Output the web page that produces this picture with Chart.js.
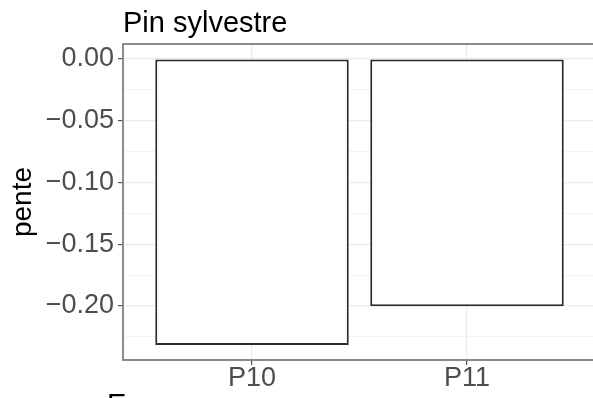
<!DOCTYPE html>
<html>
<head>
<meta charset="utf-8">
<script src="https://cdn.jsdelivr.net/npm/chart.js@4"></script>
<style>
  html, body { margin: 0; padding: 0; background: #fff; }
  #wrap { width: 593px; height: 398px; overflow: hidden; }
</style>
</head>
<body>
<div id="wrap"><canvas id="pente" width="600" height="398"></canvas></div>
<script>
  // data
  const categories = ["P10", "P11"];
  const pente = [-0.2316, -0.2001];
  const yTicks = [0, -0.05, -0.1, -0.15, -0.2];
  const plotTitle = "Pin sylvestre";
  const yTitle = "pente";
  const xTitle = "Essence";

  const FONT = "'Liberation Sans', Arial, sans-serif";
  const isMajor = (v) => yTicks.some((t) => Math.abs(t - v) < 1e-6);
  const fmt = (v) => (Math.abs(v) < 1e-9 ? "0.00" : v.toFixed(2).replace("-", "\u2212"));

  // panel border + titles, drawn like ggplot does
  const deco = {
    id: "deco",
    afterDatasetsDraw(chart) {
      const { ctx, chartArea: a } = chart;
      ctx.save();
      ctx.strokeStyle = "#7f7f7f";
      ctx.lineWidth = 1.8;
      ctx.strokeRect(a.left, a.top, a.right - a.left, a.bottom - a.top);
      ctx.restore();
    },
    afterDraw(chart) {
      const { ctx, chartArea: a } = chart;
      ctx.save();
      ctx.fillStyle = "#000";
      ctx.textBaseline = "alphabetic";
      ctx.font = "29px " + FONT;
      ctx.fillText(plotTitle, a.left, 32);
      ctx.fillText(xTitle, 107, 414);
      ctx.restore();
    },
  };

  window.addEventListener("load", () => {
    const ctx = document.getElementById("pente");

    new Chart(ctx, {
      type: "bar",
      data: {
        datasets: [
          {
            data: categories.map((c, i) => ({ x: i + 1, y: pente[i] })),
            backgroundColor: "#ffffff",
            borderColor: "#2b2b2b",
            borderWidth: 2,
            borderSkipped: false,
            barPercentage: 0.9,
            categoryPercentage: 1,
          },
        ],
      },
      options: {
        responsive: false,
        animation: false,
        layout: { padding: { top: 44, right: 4, left: 0, bottom: 0 } },
        plugins: { legend: { display: false }, tooltip: { enabled: false } },
        scales: {
          x: {
            type: "linear",
            min: 0.4,
            max: 2.6,
            offset: false,
            border: { display: false },
            grid: { offset: false, color: "#ebebeb", lineWidth: 1.2, tickLength: 5, tickColor: "#555" },
            ticks: {
              stepSize: 1,
              includeBounds: false,
              autoSkip: false,
              padding: -3,
              color: "#4d4d4d",
              font: { family: FONT, size: 27 },
              callback: (v) => categories[v - 1] ?? "",
            },
            afterFit: (s) => { s.height = 38; },
          },
          y: {
            min: -0.2437,
            max: 0.0121,
            border: { display: false },
            grid: {
              color: "#ebebeb",
              lineWidth: (c) => (isMajor(c.tick.value) ? 1.2 : 0.6),
              tickLength: 5,
              tickColor: (c) => (isMajor(c.tick.value) ? "#555" : "rgba(0,0,0,0)"),
            },
            ticks: {
              stepSize: 0.025,
              includeBounds: false,
              autoSkip: false,
              padding: 4,
              color: "#4d4d4d",
              font: { family: FONT, size: 27 },
              callback: (v) => (isMajor(v) ? fmt(v) : ""),
            },
            title: {
              display: true,
              text: yTitle,
              color: "#000",
              font: { family: FONT, size: 28 },
              padding: { top: 6, bottom: 0 },
            },
            afterFit: (s) => { s.width = 123; },
          },
        },
      },
      plugins: [deco],
    });
  });
</script>
</body>
</html>
